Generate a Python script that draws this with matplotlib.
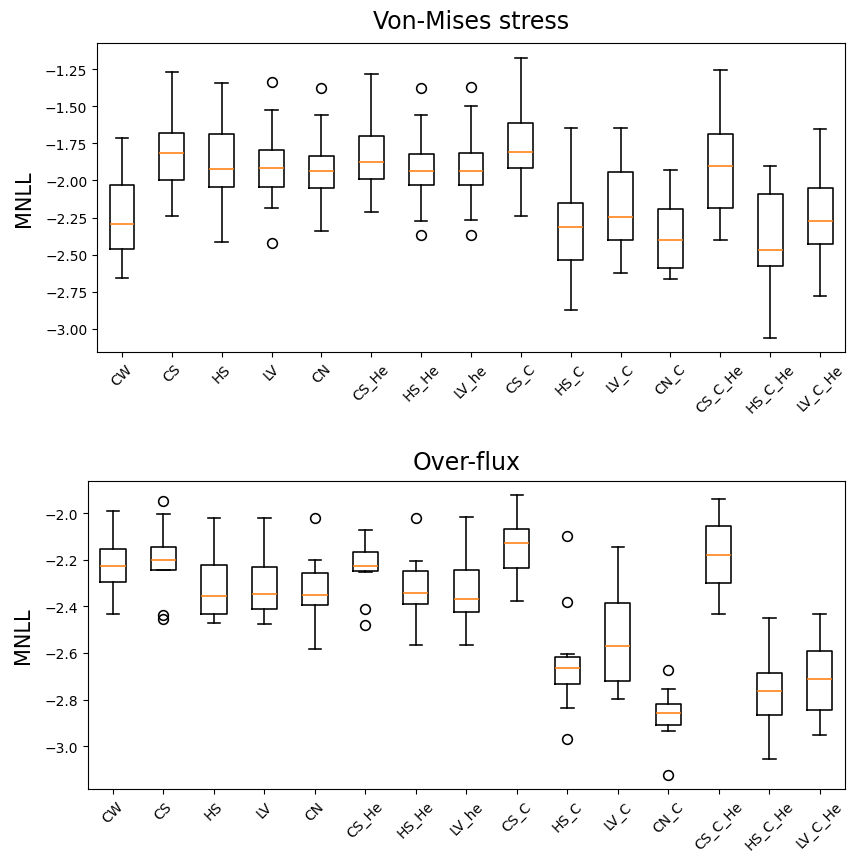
import matplotlib
matplotlib.use("Agg")
import matplotlib.pyplot as plt

labels = ["CW", "CS", "HS", "LV", "CN", "CS_He", "HS_He", "LV_he", "CS_C",
          "HS_C", "LV_C", "CN_C", "CS_C_He", "HS_C_He", "LV_C_He"]

# Von-Mises stress
vm_whislo = [-2.654, -2.237, -2.417, -2.186, -2.338, -2.213, -2.273, -2.266, -2.237,
             -2.875, -2.623, -2.663, -2.399, -3.061, -2.776]
vm_q1 = [-2.464, -1.997, -2.042, -2.042, -2.049, -1.990, -2.033, -2.031, -1.918,
         -2.533, -2.399, -2.587, -2.186, -2.576, -2.428]
vm_med = [-2.291, -1.813, -1.921, -1.918, -1.939, -1.876, -1.939, -1.937, -1.806,
          -2.316, -2.244, -2.399, -1.903, -2.466, -2.273]
vm_q3 = [-2.029, -1.681, -1.690, -1.795, -1.838, -1.699, -1.822, -1.818, -1.613,
         -2.154, -1.941, -2.192, -1.688, -2.094, -2.053]
vm_whishi = [-1.717, -1.270, -1.342, -1.526, -1.560, -1.281, -1.560, -1.499, -1.176,
             -1.645, -1.649, -1.930, -1.254, -1.905, -1.656]
vm_fliers = [[], [], [], [-1.340, -2.421], [-1.376], [], [-1.376, -2.367],
             [-1.371, -2.367], [], [], [], [], [], [], []]

# Over-flux
of_whislo = [-2.432, -2.245, -2.472, -2.476, -2.581, -2.253, -2.564, -2.564, -2.376,
             -2.838, -2.798, -2.936, -2.432, -3.056, -2.954]
of_q1 = [-2.295, -2.242, -2.431, -2.412, -2.396, -2.249, -2.388, -2.423, -2.236,
         -2.734, -2.721, -2.908, -2.299, -2.867, -2.845]
of_med = [-2.226, -2.203, -2.355, -2.348, -2.352, -2.226, -2.343, -2.368, -2.130,
          -2.664, -2.569, -2.858, -2.180, -2.762, -2.711]
of_q3 = [-2.152, -2.147, -2.222, -2.232, -2.255, -2.166, -2.249, -2.245, -2.070,
         -2.617, -2.385, -2.818, -2.057, -2.688, -2.592]
of_whishi = [-1.991, -2.003, -2.021, -2.021, -2.202, -2.071, -2.207, -2.016, -1.922,
             -2.605, -2.147, -2.755, -1.941, -2.452, -2.435]
of_fliers = [[], [-1.950, -2.436, -2.453], [], [], [-2.020], [-2.413, -2.478], [-2.019],
             [], [], [-2.099, -2.382, -2.970], [], [-2.674, -3.124], [], [], []]


def stats(whislo, q1, med, q3, whishi, fliers):
    out = []
    for i in range(len(labels)):
        out.append(dict(label=labels[i], whislo=whislo[i], q1=q1[i], med=med[i],
                        q3=q3[i], whishi=whishi[i], fliers=fliers[i]))
    return out


DPI = 100
fig = plt.figure(figsize=(849 / DPI, 854 / DPI), dpi=DPI)
ax1 = fig.add_axes([0.1143, 0.5870, 0.8810, 0.3611])
ax2 = fig.add_axes([0.1033, 0.0749, 0.8920, 0.3610])

lw = 1.15
for ax, st, title, pad in [
    (ax1, stats(vm_whislo, vm_q1, vm_med, vm_q3, vm_whishi, vm_fliers), "Von-Mises stress", 10.8),
    (ax2, stats(of_whislo, of_q1, of_med, of_q3, of_whishi, of_fliers), "Over-flux", 8.2),
]:
    ax.bxp(st, showfliers=True,
           boxprops=dict(linewidth=lw), whiskerprops=dict(linewidth=lw),
           capprops=dict(linewidth=lw), medianprops=dict(linewidth=lw, color="#ff7f0e"),
           flierprops=dict(markersize=7, markeredgewidth=lw))
    ax.set_title(title, fontsize=17, pad=pad)
    ax.set_ylabel("MNLL", fontsize=15, labelpad=8)
    ax.tick_params(axis="x", labelrotation=45)

ax1.set_yticks([-1.25, -1.5, -1.75, -2.0, -2.25, -2.5, -2.75, -3.0])
ax1.set_ylim(-3.153, -1.077)
ax2.set_ylim(-3.184, -1.861)

fig.savefig("out.png", dpi=DPI)
